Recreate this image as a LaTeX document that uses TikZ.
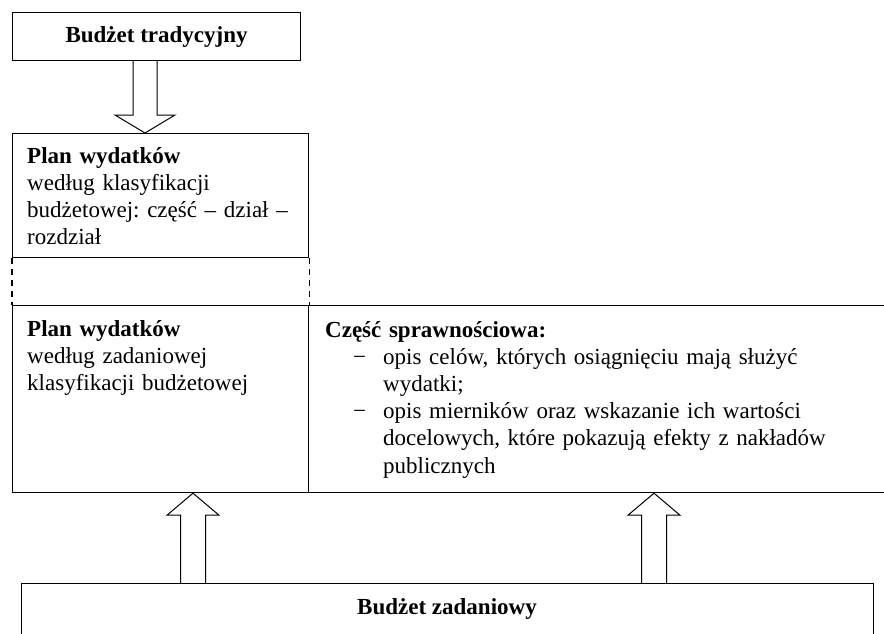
\documentclass[tikz,border=0pt]{standalone}
\usepackage{fontspec}
\setmainfont{Liberation Serif}
\usepackage{tikz}
\usetikzlibrary{calc}
\frenchspacing

% hollow block arrow: tail, tip, shaft half width, head half width, head length
\newcommand{\hollowarrow}[5]{%
  \draw[arrowline] let \p1=(#1), \p2=(#2), \n1={sign(\y1-\y2)} in
    ({\x1-#3},\y1) -- ({\x1-#3},{\y2+\n1*#5}) -- ({\x1-#4},{\y2+\n1*#5})
    -- (\x2,\y2) -- ({\x1+#4},{\y2+\n1*#5}) -- ({\x1+#3},{\y2+\n1*#5})
    -- ({\x1+#3},\y1);}

\tikzset{
  box/.style={draw, line width=1.2pt, inner sep=0pt, anchor=north west},
  boxtext/.style={anchor=base west, inner sep=0pt, text width=#1, align=left},
  arrowline/.style={line width=1pt},
  dashline/.style={line width=1.2pt, dash pattern=on 6pt off 5pt}
}

\begin{document}
\begin{tikzpicture}[x=1pt, y=-1pt, font=\fontsize{23}{27.2}\selectfont]
  \useasboundingbox (0,0) rectangle (884,634);
  \clip (0,0) rectangle (884,634);

  % boxes
  \node[box, minimum width=288pt, minimum height=48pt, font=\fontsize{23}{27.2}\selectfont\bfseries] (trad) at (12,12) {Budżet tradycyjny};
  \node[box, minimum width=296pt, minimum height=124pt] (klas) at (12,133) {};
  \node[box, minimum width=296pt, minimum height=187pt] (zad) at (12,305) {};
  \node[box, minimum width=590pt, minimum height=187pt] (spraw) at (308,305) {};
  \node[box, minimum width=852pt, minimum height=80pt] (zadan) at (21,583) {};

  % texts
  \node[boxtext=275pt] (klasT) at (27,163) {\textbf{Plan wydatków}\\ według klasyfikacji\\ budżetowej: część – dział –\\ rozdział};
  \node[boxtext=275pt] (zadT) at (27,336) {\textbf{Plan wydatków}\\ według zadaniowej\\ klasyfikacji budżetowej};
  \node[boxtext=545pt] (sprawT) at (325,337) {\textbf{Część sprawnościowa:}\\
    \hspace*{28pt}\makebox[30pt][l]{−}opis celów, których osiągnięciu mają służyć\\
    \hspace*{58pt}wydatki;\\
    \hspace*{28pt}\makebox[30pt][l]{−}opis mierników oraz wskazanie ich wartości\\
    \hspace*{58pt}docelowych, które pokazują efekty z nakładów\\
    \hspace*{58pt}publicznych};
  \node[anchor=base, inner sep=0pt, font=\fontsize{23}{27.2}\selectfont\bfseries] (zadanT) at (447,614) {Budżet zadaniowy};

  % dashed link between the two plans
  \draw[dashline] (klas.south west) -- (zad.north west);
  \draw[dashline] (klas.south east) -- (zad.north east);

  % arrows
  \coordinate (downx) at (145,0);
  \coordinate (upl) at (193,0);
  \coordinate (upr) at (654,0);
  \hollowarrow{trad.south -| downx}{klas.north -| downx}{12pt}{30pt}{18pt}
  \hollowarrow{zadan.north -| upl}{zad.south -| upl}{12.5pt}{26pt}{22pt}
  \hollowarrow{zadan.north -| upr}{spraw.south -| upr}{12.5pt}{26pt}{22pt}
\end{tikzpicture}
\end{document}
